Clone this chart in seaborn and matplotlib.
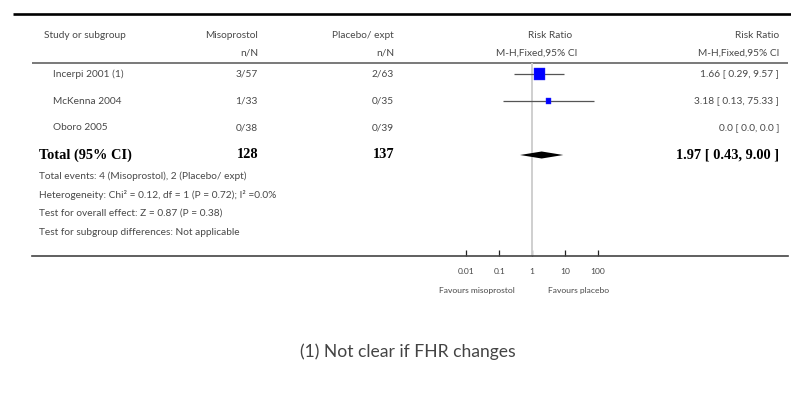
import numpy as np
import pandas as pd
import matplotlib
matplotlib.use("Agg")
import matplotlib.pyplot as plt
import matplotlib.transforms as mtransforms
import seaborn as sns

# ---- study data -------------------------------------------------------
studies = ["Incerpi 2001 (1)", "McKenna 2004", "Oboro 2005"]
miso_nN = ["3/57", "1/33", "0/38"]
placebo_nN = ["2/63", "0/35", "0/39"]
rr = [1.66, 3.18, np.nan]
rr_lo = [0.29, 0.13, np.nan]
rr_hi = [9.57, 75.33, np.nan]
rr_text = ["1.66 [ 0.29, 9.57 ]", "3.18 [ 0.13, 75.33 ]", "0.0 [ 0.0, 0.0 ]"]
weight = [79.6, 20.4, 0.0]

total_miso = 128
total_placebo = 137
total_rr = 1.97
total_lo = 0.43
total_hi = 9.00
total_text = "1.97 [ 0.43, 9.00 ]"

footer_lines = [
    "Total events: 4 (Misoprostol), 2 (Placebo/ expt)",
    "Heterogeneity: Chi\u00b2 = 0.12, df = 1 (P = 0.72); I\u00b2 =0.0%",
    "Test for overall effect: Z = 0.87 (P = 0.38)",
    "Test for subgroup differences: Not applicable",
]
tick_values = [0.01, 0.1, 1, 10, 100]
tick_labels = ["0.01", "0.1", "1", "10", "100"]
favours_left = "Favours misoprostol"
favours_right = "Favours placebo"
footnote = "(1) Not clear if FHR changes"

# ---- style ------------------------------------------------------------
sns.set_style("white")
plt.rcParams["font.family"] = ["Lato", "DejaVu Sans"]
TXT = "#484848"
FS = 7.3
SMALL = 6.1
SERIF = ["Liberation Serif", "DejaVu Serif"]

W, H = 791, 403
fig = plt.figure(figsize=(W / 100, H / 100), dpi=100)

# background axes in pixel units for the table text and rules
bg = fig.add_axes([0, 0, 1, 1])
bg.set_xlim(0, W)
bg.set_ylim(H, 0)
bg.axis("off")

# forest plot axes (log scale); its bottom spine is the lower rule
ax_left, ax_right, ax_top, ax_bottom = 32, 788, 63, 256
ax = fig.add_axes([ax_left / W, (H - ax_bottom) / H,
                   (ax_right - ax_left) / W, (ax_bottom - ax_top) / H])
ax.patch.set_alpha(0)
ax.set_xscale("log")
px_per_decade = 32.8
x_one = 532
ax.set_xlim(10 ** ((ax_left - x_one) / px_per_decade),
            10 ** ((ax_right - x_one) / px_per_decade))
row_gap = 27.0
row0 = 74
ax.set_ylim((ax_bottom - row0) / row_gap, (ax_top - row0) / row_gap)

n = len(studies)
rows = np.arange(n)
total_row = n

df = pd.DataFrame({"study": studies, "rr": rr, "lo": rr_lo, "hi": rr_hi,
                   "weight": weight, "row": rows})

# line of no effect
ax.axvline(1, color="#cfcfcf", lw=1.4, zorder=1)

# confidence intervals
valid = df.dropna(subset=["rr"])
ax.hlines(valid["row"], valid["lo"], valid["hi"], color="#555555", lw=0.9, zorder=2)

# study squares sized by weight
sns.scatterplot(data=valid, x="rr", y="row", size="weight", sizes=(0, 79),
                size_norm=(0, 100), marker="s", color="#0000ff",
                edgecolor="#3030ff", linewidth=0.3, legend=False, ax=ax, zorder=3)

# pooled diamond
dh = 0.13
ax.fill([total_lo, total_rr, total_hi, total_rr],
        [total_row, total_row - dh, total_row, total_row + dh],
        color="black", lw=0, zorder=3)

ax.set_xlabel("")
ax.set_ylabel("")
ax.set_yticks([])
ax.set_xticks(tick_values)
ax.set_xticklabels(tick_labels)
ax.xaxis.set_minor_locator(matplotlib.ticker.NullLocator())
ax.tick_params(axis="x", direction="in", length=4, width=0.9, color="#222222",
               pad=8.5, labelsize=SMALL, labelcolor=TXT, bottom=True)
for side in ["top", "left", "right"]:
    ax.spines[side].set_visible(False)
ax.spines["bottom"].set_color("#444444")
ax.spines["bottom"].set_linewidth(1.2)

# ---- rules ------------------------------------------------------------
bg.hlines(14, 13, W, color="black", lw=1.9)
bg.hlines(62.5, 32, 788, color="#555555", lw=1.1)

# ---- headers ----------------------------------------------------------
hdr1, hdr2 = 35, 53
x_study, x_miso, x_plac, x_rr, x_val = 44, 258, 394, 577, 779
bg.text(x_study, hdr1, "Study or subgroup", ha="left", va="center", fontsize=FS, color=TXT)
bg.text(x_miso, hdr1, "Misoprostol", ha="right", va="center", fontsize=FS, color=TXT)
bg.text(x_plac, hdr1, "Placebo/ expt", ha="right", va="center", fontsize=FS, color=TXT)
bg.text(x_miso, hdr2, "n/N", ha="right", va="center", fontsize=FS, color=TXT)
bg.text(x_plac, hdr2, "n/N", ha="right", va="center", fontsize=FS, color=TXT)
bg.text(x_rr - 5, hdr1, "Risk Ratio", ha="right", va="center", fontsize=FS, color=TXT)
bg.text(x_rr, hdr2, "M-H,Fixed,95% CI", ha="right", va="center", fontsize=FS, color=TXT)
bg.text(x_val, hdr1, "Risk Ratio", ha="right", va="center", fontsize=FS, color=TXT)
bg.text(x_val, hdr2, "M-H,Fixed,95% CI", ha="right", va="center", fontsize=FS, color=TXT)

# ---- study rows (x in pixels, y tied to the forest rows) ---------------
tr = mtransforms.blended_transform_factory(bg.transData, ax.transData)
for i in range(n):
    kw = dict(transform=tr, va="center", fontsize=FS, color=TXT)
    bg.text(53, rows[i], studies[i], ha="left", **kw)
    bg.text(x_miso, rows[i], miso_nN[i], ha="right", **kw)
    bg.text(x_plac, rows[i], placebo_nN[i], ha="right", **kw)
    bg.text(x_val, rows[i], rr_text[i], ha="right", **kw)

bkw = dict(transform=tr, va="center", fontsize=10.4, color="black",
           fontweight="bold", family=SERIF)
bg.text(39, total_row, "Total (95% CI)", ha="left", **bkw)
bg.text(x_miso, total_row, str(total_miso), ha="right", **bkw)
bg.text(x_plac, total_row, str(total_placebo), ha="right", **bkw)
bg.text(x_val, total_row, total_text, ha="right", **bkw)

for j, line in enumerate(footer_lines):
    bg.text(39, 176 + j * 18.7, line, ha="left", va="center", fontsize=FS, color=TXT)

# ---- favours labels and footnote --------------------------------------
bg.text(477, 291, favours_left, ha="center", va="center", fontsize=SMALL, color=TXT)
bg.text(579, 291, favours_right, ha="center", va="center", fontsize=SMALL, color=TXT)
bg.text(408, 352, footnote, ha="center", va="center", fontsize=12.6, color="#444444")

fig.savefig("out.png", dpi=100)
